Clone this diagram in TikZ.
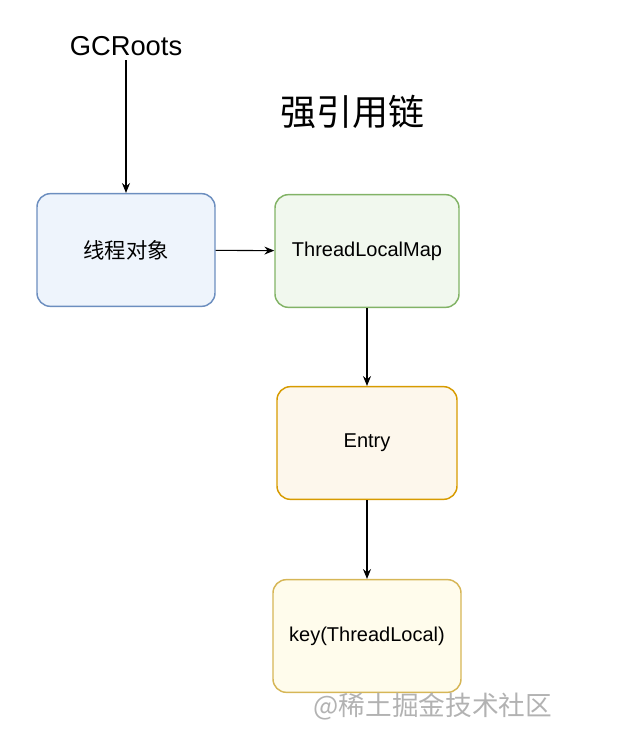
\documentclass[tikz,border=0pt]{standalone}
\usepackage{fontspec}
\setmainfont{Liberation Sans}
\newfontfamily\cjk{Noto Sans CJK SC}
\usetikzlibrary{arrows.meta, positioning}
\definecolor{blueline}{HTML}{6C8EBF}
\definecolor{bluefill}{HTML}{EEF4FC}
\definecolor{greenline}{HTML}{82B366}
\definecolor{greenfill}{HTML}{F1F8EE}
\definecolor{orangeline}{HTML}{D79B00}
\definecolor{orangefill}{HTML}{FDF7EC}
\definecolor{yellowline}{HTML}{D6B656}
\definecolor{yellowfill}{HTML}{FFFCEC}

\begin{document}
\begin{tikzpicture}[
  x=0.75pt, y=-0.75pt,
  every node/.style={font=\fontsize{15}{18}\selectfont},
  objbox/.style={rectangle, draw, rounded corners=10pt, line width=1.1pt,
    minimum width=133.5pt, minimum height=84.5pt, inner sep=0pt},
  link/.style={draw, -{Stealth[length=2.6mm, width=2.1mm]}, line width=0.8pt}
]
\useasboundingbox (0,0) rectangle (628,736);

\node (roots) at (126,46) {\fontsize{20.5}{24}\selectfont GCRoots};
\node (title) at (352,112) {\cjk\fontsize{27}{30}\selectfont 强引用链};

\node[objbox, draw=blueline, fill=bluefill] (thread) at (126,250) {\cjk\fontsize{16}{18}\selectfont 线程对象};
\node[objbox, draw=greenline, fill=greenfill, minimum width=138pt] (map) at (367,251) {ThreadLocalMap};
\node[objbox, draw=orangeline, fill=orangefill, minimum width=135pt] (entry) at (367,443) {Entry};
\node[objbox, draw=yellowline, fill=yellowfill, minimum width=141pt] (key) at (367,636) {key(ThreadLocal)};

\node[text=black!30] (mark) at (433,706) {\cjk\fontsize{20}{22}\selectfont @稀土掘金技术社区};

\draw[link] (roots) -- (thread);
\draw[link] (thread) -- (map);
\draw[link] (map) -- (entry);
\draw[link] (entry) -- (key);

\end{tikzpicture}
\end{document}
